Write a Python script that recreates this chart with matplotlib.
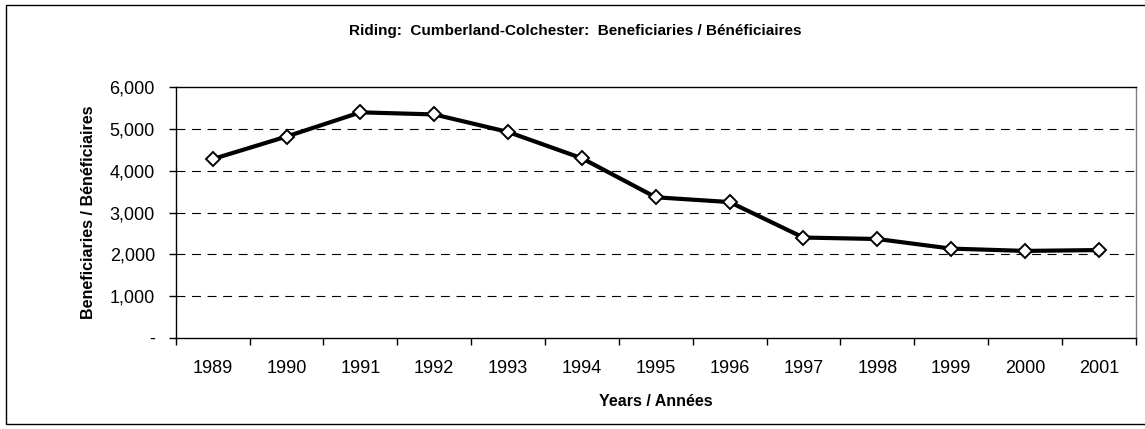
import numpy as np
import matplotlib.pyplot as plt
from matplotlib.patches import Rectangle
from matplotlib.ticker import FuncFormatter

years = ['1989', '1990', '1991', '1992', '1993', '1994', '1995',
         '1996', '1997', '1998', '1999', '2000', '2001']
beneficiaries = [4280, 4820, 5400, 5350, 4930, 4300, 3365,
                 3250, 2400, 2365, 2135, 2080, 2100]

plt.rcParams['font.family'] = ['Liberation Sans', 'DejaVu Sans']

fig = plt.figure(figsize=(11.45, 4.29), dpi=100)
ax = fig.add_axes([0.1535, 0.2128, 0.8384, 0.5837])

x = np.arange(len(years))
ax.plot(x, beneficiaries, color='black', linewidth=3, marker='D',
        markersize=7.5, markerfacecolor='white', markeredgecolor='black',
        markeredgewidth=1.4, zorder=3)

ax.set_xlim(-0.5, len(years) - 0.5)
ax.set_ylim(0, 6000)
ax.set_yticks(np.arange(0, 6001, 1000))
ax.yaxis.set_major_formatter(FuncFormatter(lambda v, p: '-' if v == 0 else f'{int(v):,}'))
for yv in range(1000, 6000, 1000):
    ax.axhline(yv, color='black', linewidth=0.8, linestyle=(0, (8, 6)), zorder=1)

ax.set_xticks(x)
ax.set_xticklabels(years)
ax.set_xticks(np.arange(-0.5, len(years), 1), minor=True)
ax.tick_params(axis='x', which='major', length=0, pad=16, labelsize=13)
ax.tick_params(axis='x', which='minor', length=5, width=1, direction='out')
ax.tick_params(axis='y', length=5, width=1, direction='out', pad=10, labelsize=13)

for s in ['left', 'bottom', 'top']:
    ax.spines[s].set_color('black')
    ax.spines[s].set_linewidth(1)
ax.spines['right'].set_color('#808080')
ax.spines['right'].set_linewidth(1)

ax.set_xlabel('Years / Années', fontsize=11.5, fontweight='bold', labelpad=12)
ax.set_ylabel('Beneficiaries / Bénéficiaires', fontsize=11.5, fontweight='bold', labelpad=10)
fig.text(0.502, 0.928, 'Riding:  Cumberland-Colchester:  Beneficiaries / Bénéficiaires',
         ha='center', va='center', fontsize=11, fontweight='bold')

fig.patches.append(Rectangle((6 / 1145, 1 - 424 / 429), 1.0, (424 - 5) / 429,
                             transform=fig.transFigure, fill=False,
                             edgecolor='black', linewidth=1))

fig.savefig('out.png', dpi=100)
